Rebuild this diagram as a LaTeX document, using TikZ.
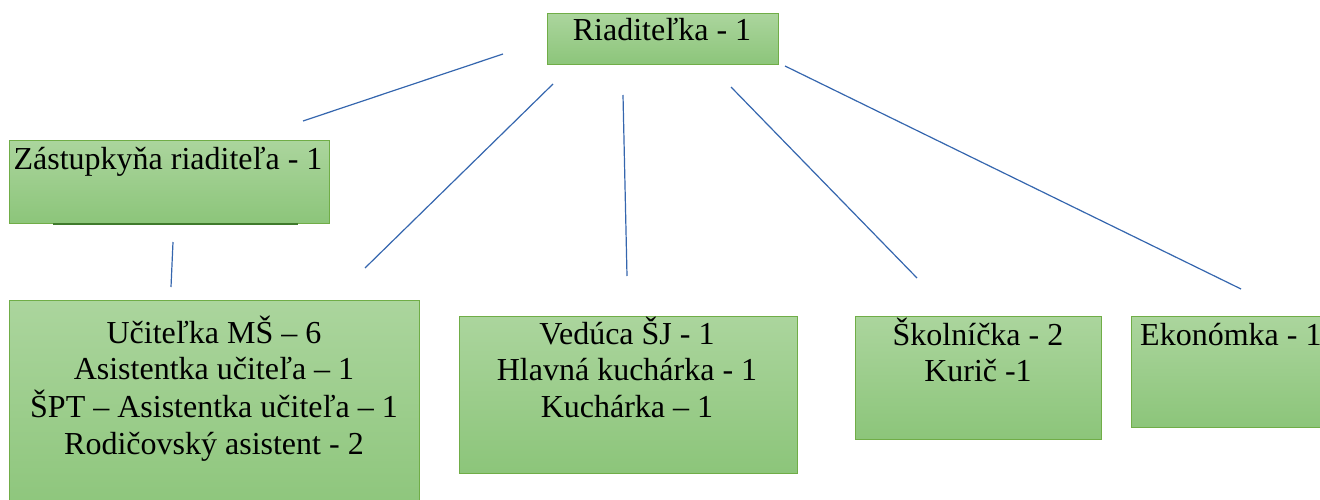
\documentclass[tikz,border=0pt]{standalone}
\usepackage{fontspec}
\setmainfont{Liberation Serif}
\definecolor{boxborder}{HTML}{70AD47}
\definecolor{boxtop}{HTML}{ABD59D}
\definecolor{boxbottom}{HTML}{8CC57A}
\definecolor{linkblue}{HTML}{3566AE}
\definecolor{darkline}{HTML}{3F7A2C}
\tikzset{
  orgbox/.style={draw=boxborder, line width=1.3pt, top color=boxtop, bottom color=boxbottom, inner sep=0pt, anchor=north west},
  orgtext/.style={inner sep=0pt, anchor=base, font=\fontsize{32}{36.5}\selectfont},
  link/.style={draw=linkblue, line width=1.2pt}
}
\begin{document}
\begin{tikzpicture}[x=1pt,y=-1pt]
\useasboundingbox (0,0) rectangle (1320,500);
% boxes
\node[orgbox, minimum width=231pt, minimum height=51pt] (b0) at (547,13) {};
\node[orgbox, minimum width=320pt, minimum height=83pt] (b1) at (9,140) {};
\draw[darkline, line width=1.6pt] (53,224) coordinate (u1) -- (298,224) coordinate (u2);
\node[orgbox, minimum width=410pt, minimum height=220pt] (b2) at (9,300) {};
\node[orgbox, minimum width=338pt, minimum height=157pt] (b3) at (459,316) {};
\node[orgbox, minimum width=246pt, minimum height=123pt] (b4) at (855,316) {};
\node[orgbox, minimum width=200pt, minimum height=111pt] (b5) at (1131,316) {};
% texts
\node[orgtext] (t0) at (662,41) {Riaditeľka - 1};
\node[orgtext] (t1) at (168,170) {Zástupkyňa riaditeľa - 1};
\node[orgtext] (t2) at (214,343) {\begin{tabular}[t]{@{}c@{}}Učiteľka MŠ – 6\\Asistentka učiteľa – 1\\ŠPT – Asistentka učiteľa – 1\\Rodičovský asistent - 2\end{tabular}};
\node[orgtext] (t3) at (627,344) {\begin{tabular}[t]{@{}c@{}}Vedúca ŠJ - 1\\Hlavná kuchárka - 1\\Kuchárka – 1\end{tabular}};
\node[orgtext] (t4) at (978,345) {\begin{tabular}[t]{@{}c@{}}Školníčka - 2\\Kurič -1\end{tabular}};
\node[orgtext, anchor=base west] (t5) at (1140,345) {Ekonómka - 1};
% connector end points
\coordinate (a1) at (503,54);  \coordinate (e1) at (303,121);
\coordinate (a2) at (553,84);  \coordinate (e2) at (365,268);
\coordinate (a3) at (623,95);  \coordinate (e3) at (627,276);
\coordinate (a4) at (731,87);  \coordinate (e4) at (917,278);
\coordinate (a5) at (785,66);  \coordinate (e5) at (1241,289);
\coordinate (a6) at (173,242); \coordinate (e6) at (171,287);
\draw[link] (a1) -- (e1);
\draw[link] (a2) -- (e2);
\draw[link] (a3) -- (e3);
\draw[link] (a4) -- (e4);
\draw[link] (a5) -- (e5);
\draw[link] (a6) -- (e6);
\end{tikzpicture}
\end{document}
